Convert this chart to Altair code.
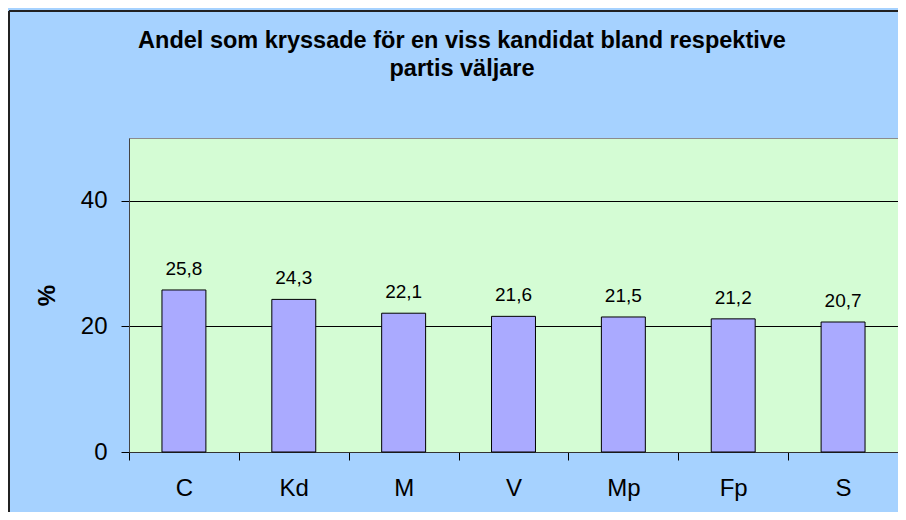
import altair as alt
import pandas as pd

parties = ["C", "Kd", "M", "V", "Mp", "Fp", "S"]
shares = [25.8, 24.3, 22.1, 21.6, 21.5, 21.2, 20.7]
y_ticks = [0, 20, 40]
title_lines = ["Andel som kryssade för en viss kandidat bland respektive", "partis väljare"]
y_title = "%"

df = pd.DataFrame({
    "parti": parties,
    "andel": shares,
    "etikett": [f"{v:.1f}".replace(".", ",") for v in shares],
})

FONT = "Liberation Sans"
W, H = 769, 314

x = alt.X(
    "parti:N", sort=parties,
    scale=alt.Scale(paddingInner=0, paddingOuter=0),
    axis=alt.Axis(title=None, labelFontSize=24, labelFont=FONT, labelColor="black",
                  labelAngle=0, tickBand="extent", tickSize=8, tickColor="black",
                  domainColor="#333333", labelPadding=16, grid=False),
)
y = alt.Y(
    "andel:Q",
    scale=alt.Scale(domain=[0, 50], nice=False),
    axis=alt.Axis(values=y_ticks, title=y_title, titleFontSize=24, titleFont=FONT,
                  titleFontWeight="bold", titleAngle=270, titleBaseline="middle",
                  titleAlign="center", titleX=-82, titleY=H / 2, titleColor="black",
                  labelFontSize=24, labelFont=FONT, labelColor="black", labelPadding=14,
                  tickSize=8, tickColor="black", domainColor="#444444",
                  grid=True, gridColor="black", gridOpacity=1, gridWidth=1),
)

base = alt.Chart(df)
bars = base.mark_bar(color="#AAAAFF", stroke="black", strokeWidth=1,
                     width=alt.RelativeBandSize(0.4)).encode(x=x, y=y)
labels = base.mark_text(dy=-15, baseline="alphabetic", fontSize=19, font=FONT,
                        color="black").encode(x=x, y=y, text="etikett:N")

border_left = alt.Chart(df).mark_rule(color="#222222", strokeWidth=1.5).encode(
    x=alt.value(-120), y=alt.value(-127), y2=alt.value(H + 60))
border_top = alt.Chart(df).mark_rule(color="#222222", strokeWidth=1.5).encode(
    y=alt.value(-127), x=alt.value(-120), x2=alt.value(W + 10))

chart = alt.layer(bars, labels, border_left, border_top).properties(
    width=W, height=H,
    autosize=alt.AutoSizeParams(type="none"),
    padding={"left": 121, "top": 130, "right": 0, "bottom": 60},
    title=alt.TitleParams(text=title_lines, fontSize=23.5, font=FONT, fontWeight="bold",
                          anchor="middle", dx=-51.5, offset=-89, baseline="alphabetic",
                          lineHeight=28, color="black"),
).configure(background="#A6D2FF").configure_view(fill="#D4FCD4", stroke="#8C8C8C")

chart.save("out.html", embed_options={"renderer": "svg", "actions": False})
